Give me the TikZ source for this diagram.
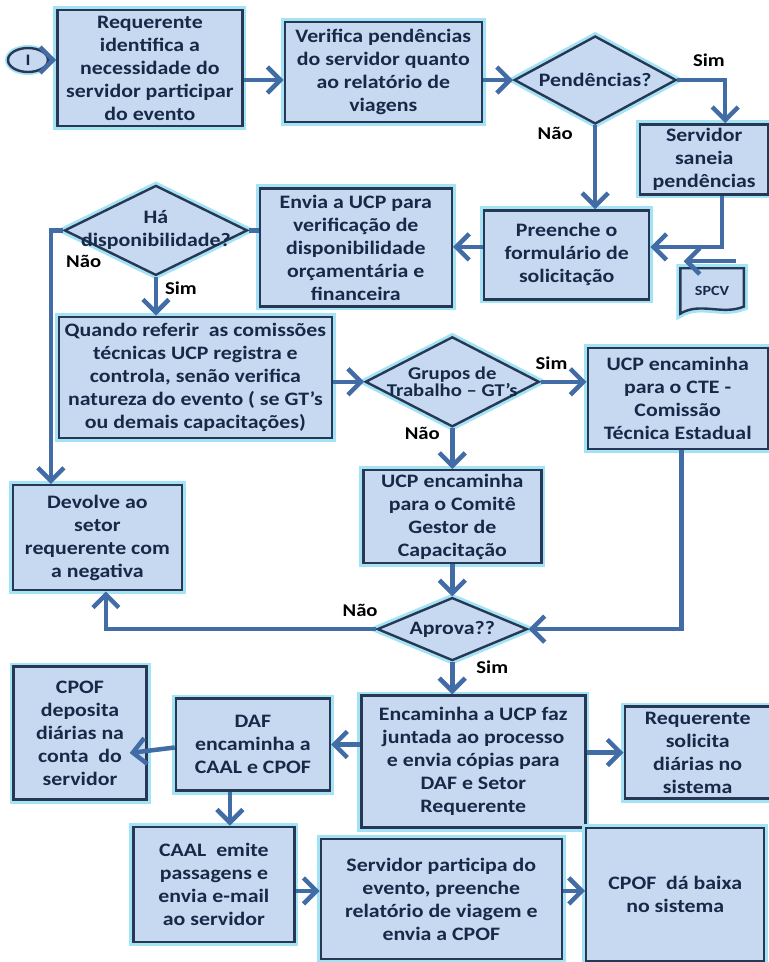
\documentclass[tikz,border=0pt]{standalone}
\usepackage{fontspec}
\setmainfont{Carlito}[FakeStretch=1.15]
\usepackage{xcolor}
\usepackage{tikz}
\usetikzlibrary{arrows.meta,positioning,shapes.geometric,backgrounds}
\definecolor{flowfill}{RGB}{198,217,241}
\definecolor{flowedge}{RGB}{38,56,84}
\definecolor{flowglow}{RGB}{164,226,246}
\definecolor{flowtext}{RGB}{22,42,72}
\definecolor{flowblue}{RGB}{66,108,166}
\newcommand{\flowfont}{\fontsize{19}{23}\selectfont\bfseries}
\tikzset{
  flowbox/.style={
    draw=flowedge,
    line width=2.4pt,
    fill=flowfill,
    preaction={draw=flowglow, line width=8pt},
    align=center,
    inner sep=1pt,
    text=flowtext,
    font=\flowfont
  },
  flowdecision/.style={
    diamond,
    draw=flowedge,
    line width=2.4pt,
    fill=flowfill,
    preaction={draw=flowglow, line width=8pt},
    inner sep=0pt
  },
  flowdtext/.style={
    align=center,
    text=flowtext,
    font=\flowfont
  },
  flowstart/.style={
    ellipse,
    draw=flowedge,
    line width=2.4pt,
    fill=flowfill,
    preaction={draw=flowglow, line width=6pt},
    minimum width=40pt,
    minimum height=24pt,
    inner sep=0pt,
    text=flowtext,
    font=\fontsize{16}{18}\selectfont\bfseries
  },
  flowarrow/.style={
    -{Straight Barb[length=13pt,width=26pt]},
    line width=4.5pt,
    draw=flowblue
  },
  flowline/.style={
    line width=4.5pt,
    draw=flowblue
  },
  flowlabel/.style={
    inner sep=1pt,
    text=black,
    font=\fontsize{18}{22}\selectfont\bfseries
  }
}
\begin{document}
\begin{tikzpicture}[x=1pt,y=-1pt]
    \useasboundingbox (0,0) rectangle (769,962);

    \node[flowstart] (start) at (28,60) {I};
    \node[flowbox, minimum width=185pt, minimum height=116pt, right=7pt of start, yshift=-8pt] (req) {Requerente\\identifica a\\necessidade do\\servidor participar\\do evento};
    \node[flowbox, minimum width=197pt, minimum height=100pt, right=40pt of req, yshift=-4pt] (verif) {Verifica pendências\\do servidor quanto\\ao relatório de\\viagens};
    \node[flowdecision, minimum width=162pt, minimum height=88pt, right=30pt of verif, yshift=-8pt,
      label={[flowdtext]center:Pendências?}] (pend) {};
    \node[flowbox, minimum width=128pt, minimum height=70pt, below=-2pt of pend, xshift=109pt] (saneia) {Servidor\\saneia\\pendências};
    \node[flowbox, minimum width=165pt, minimum height=89pt, below=84pt of pend, xshift=-28.5pt] (preenche) {Preenche o\\formulário de\\solicitação};
    \node[flowbox, minimum width=192pt, minimum height=118pt, left=30pt of preenche, yshift=7.5pt] (envia) {Envia a UCP para\\verificação de\\disponibilidade\\orçamentária e\\financeira};
    \node[flowdecision, minimum width=183pt, minimum height=90pt, left=10pt of envia, yshift=17pt,
      label={[flowdtext]center:{Há\\disponibilidade?}}] (hadisp) {};
    \node[minimum width=63pt, minimum height=45pt, inner sep=0pt, right=30pt of preenche, yshift=-36pt,
      text=flowtext, font=\fontsize{14}{16}\selectfont\bfseries] (spcv) {SPCV};

    \node[flowbox, minimum width=273pt, minimum height=121pt, below=39pt of hadisp, xshift=39.5pt] (quando) {Quando referir~ as comissões\\técnicas UCP registra e\\controla, senão verifica\\natureza do evento ( se GT’s\\ou demais capacitações)};
    \node[flowdecision, minimum width=174pt, minimum height=90pt, right=31pt of quando, yshift=-4.5pt,
      label={[flowdtext, font=\fontsize{18}{17}\selectfont\bfseries]center:{Grupos de\\Trabalho – GT’s}}] (grupos) {};
    \node[flowbox, minimum width=180pt, minimum height=101pt, right=46pt of grupos, yshift=-16.5pt] (cte) {UCP encaminha\\para o CTE -\\Comissão\\Técnica Estadual};
    \node[flowbox, minimum width=178pt, minimum height=93pt, below=41pt of grupos] (comite) {UCP encaminha\\para o Comitê\\Gestor de\\Capacitação};
    \node[flowbox, minimum width=169pt, minimum height=105pt, below=45pt of quando, xshift=-98pt] (devolve) {Devolve ao\\setor\\requerente com\\a negativa};
    \node[flowdecision, minimum width=150pt, minimum height=63pt, below=32pt of comite,
      label={[flowdtext]center:Aprova??}] (aprova) {};

    \node[flowbox, minimum width=224pt, minimum height=132pt, below=32.5pt of aprova, xshift=21pt] (encam) {Encaminha a UCP faz\\juntada ao processo\\e envia cópias para\\DAF e Setor\\Requerente};
    \node[flowbox, minimum width=146pt, minimum height=92pt, right=37pt of encam, yshift=9pt] (reqsol) {Requerente\\solicita\\diárias no\\sistema};
    \node[flowbox, minimum width=154pt, minimum height=92pt, left=29pt of encam, yshift=17pt] (daf) {DAF\\encaminha a\\CAAL e CPOF};
    \node[flowbox, minimum width=133pt, minimum height=133pt, left=27pt of daf, yshift=11.5pt] (cpofdep) {CPOF\\deposita\\diárias na\\conta~ do\\servidor};
    \node[flowbox, minimum width=161pt, minimum height=115pt, below=34pt of daf, xshift=-39pt] (caal) {CAAL~ emite\\passagens e\\envia e-mail\\ao servidor};
    \node[flowbox, minimum width=241pt, minimum height=120pt, right=24pt of caal, yshift=-14.5pt] (servpart) {Servidor participa do\\evento, preenche\\relatório de viagem e\\envia a CPOF};
    \node[flowbox, minimum width=178pt, minimum height=133pt, right=22pt of servpart, yshift=4.5pt] (cpofbx) {CPOF~ dá baixa\\no sistema};

    \begin{scope}[on background layer]
      \fill[white] (0,0) rectangle (769,962);
      \draw[draw=flowedge, line width=2.4pt, fill=flowfill, preaction={draw=flowglow, line width=8pt}]
        (spcv.north west) -- (spcv.north east) -- ([yshift=7pt]spcv.south east)
        .. controls ([xshift=-22pt,yshift=-2pt]spcv.south east) and ([xshift=20pt,yshift=12pt]spcv.south west) .. (spcv.south west) -- cycle;
    \end{scope}

    \node[flowlabel] (pendsim) at ([xshift=31.5pt,yshift=20pt]pend.east) {Sim};
    \node[flowlabel] (pendnao) at ([xshift=-40pt,yshift=-8pt]pend.south) {Não};
    \node[flowlabel] (hadnao) at ([xshift=20.5pt,yshift=-31pt]hadisp.west) {Não};
    \node[flowlabel] (hadsim) at ([xshift=25pt,yshift=-12pt]hadisp.south) {Sim};
    \node[flowlabel] (grusim) at ([xshift=11pt,yshift=19pt]grupos.east) {Sim};
    \node[flowlabel] (grunao) at ([xshift=-30pt,yshift=-5pt]grupos.south) {Não};
    \node[flowlabel] (aprnao) at ([xshift=-16pt,yshift=19pt]aprova.west) {Não};
    \node[flowlabel] (aprsim) at ([xshift=40pt,yshift=-5.5pt]aprova.south) {Sim};

    \coordinate (spcvfrom) at ([xshift=23.5pt,yshift=7pt]spcv.north);
    \coordinate (spcvto) at ([xshift=-28.5pt,yshift=7pt]spcv.north);

    \draw[flowarrow] (start.east) -- (start.east -| req.west);
    \draw[flowarrow] ([yshift=-12pt]req.east) -- ([yshift=-8pt]verif.west);
    \draw[flowarrow] (verif.east |- pend.west) -- (pend.west);
    \draw[flowarrow] (pend.east) -| ([xshift=21pt]saneia.north);
    \draw[flowarrow] (pend.south) -- (pend.south |- preenche.north);
    \draw[flowarrow] ([xshift=18pt]saneia.south) |- ([yshift=8pt]preenche.east);
    \draw[flowarrow] (spcvfrom) -- (spcvto);
    \draw[flowarrow] ([yshift=8pt]preenche.west) -- ([yshift=8pt]preenche.west -| envia.east);
    \draw[flowline] (hadisp.east -| envia.west) -- (hadisp.east);
    \draw[flowarrow] (hadisp.west) -| ([xshift=-46.5pt]devolve.north);
    \draw[flowarrow] (hadisp.south) -- (hadisp.south |- quando.north);
    \draw[flowarrow] (quando.east |- grupos.west) -- (grupos.west);
    \draw[flowarrow] (grupos.east) -- (grupos.east -| cte.west);
    \draw[flowarrow] (grupos.south) -- (comite.north);
    \draw[flowarrow] (comite.south) -- (aprova.north);
    \draw[flowarrow] ([xshift=4pt]cte.south) |- (aprova.east);
    \draw[flowarrow] (aprova.west) -| ([xshift=8.5pt]devolve.south);
    \draw[flowarrow] (aprova.south) -- (aprova.south |- encam.north);
    \draw[flowarrow] (encam.east |- reqsol.west) -- (reqsol.west);
    \draw[flowarrow] (encam.west |- daf.east) -- (daf.east);
    \draw[flowarrow] ([yshift=-3pt]daf.west) -- ([xshift=-18pt,yshift=-20pt]cpofdep.east);
    \draw[flowarrow] ([xshift=-23pt]daf.south) -- ([xshift=-23pt]daf.south |- caal.north);
    \draw[flowarrow] ([yshift=-6.5pt]caal.east) -- ([yshift=-6.5pt]caal.east -| servpart.west);
    \draw[flowarrow] ([yshift=8pt]servpart.east) -- ([yshift=8pt]servpart.east -| cpofbx.west);
\end{tikzpicture}
\end{document}
